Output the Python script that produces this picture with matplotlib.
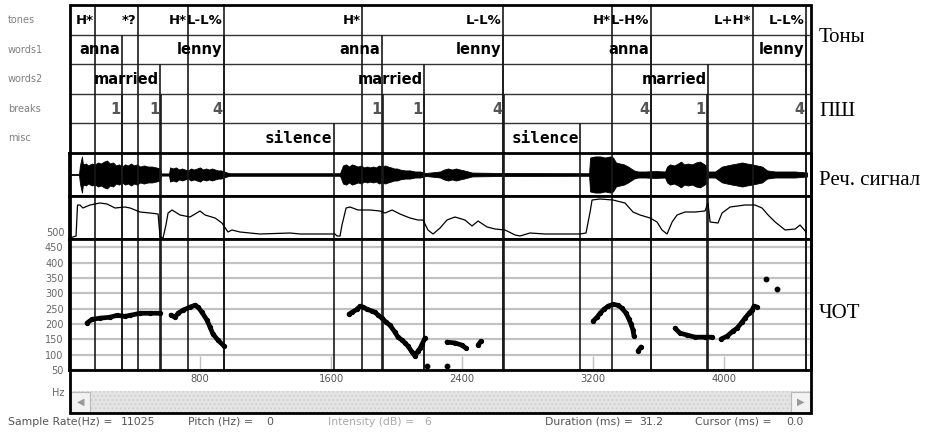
import numpy as np
import matplotlib.pyplot as plt
from matplotlib import transforms
from matplotlib.patches import Rectangle

nan = np.nan

# --- annotation tiers: label text and time (ms) of the label mark ---
tones_lab = ["H*", "*?", "H*", "L-L%", "H*", "L-L%", "H*", "L-H%", "L+H*", "L-L%"]
tones_t = [159, 421, 727, 947, 1789, 2650, 3316, 3554, 4177, 4501]
words1_lab = ["anna", "lenny", "anna", "lenny", "anna", "lenny"]
words1_t = [324, 947, 1911, 2650, 3554, 4501]
words2_lab = ["married", "married", "married"]
words2_t = [556, 2168, 3902]
breaks_lab = ["1", "1", "4", "1", "1", "4", "4", "1", "4"]
breaks_t = [324, 562, 947, 1917, 2168, 2656, 3554, 3896, 4501]
misc_lab = ["silence", "silence"]
misc_t = [1618, 3121]
tier_names = ["tones", "words1", "words2", "breaks", "misc"]

# --- speech waveform envelope (% of full scale) ---
wave_t = [0, 61, 67, 79,
          85, 104, 116, 140, 159, 177, 195, 214, 232, 250, 269, 287, 305, 324,
          342, 360, 379, 397, 415, 434, 458, 482, 507, 531, 556,
          562, 611,
          617, 635, 653, 672, 690, 708, 727, 745, 763, 782, 800, 818, 837, 855,
          873, 892, 910, 928, 947, 965,
          983, 1655,
          1673, 1692, 1710, 1728, 1747, 1765, 1783, 1802, 1820, 1838, 1857, 1875,
          1893, 1911, 1930, 1948, 1966, 1985, 2003, 2021, 2052, 2082, 2113, 2144, 2168,
          2180,
          2266, 2290, 2315, 2339, 2363, 2388, 2412, 2437, 2461,
          2632,
          3176, 3182, 3212, 3243, 3273, 3304, 3322, 3340, 3365, 3389, 3414, 3432, 3450, 3475,
          3518, 3579, 3640,
          3652, 3670, 3695, 3719, 3737, 3756, 3780, 3805, 3829, 3853, 3872, 3890, 3902,
          3945, 3988, 4018, 4049, 4079, 4110, 4140, 4171, 4202, 4232, 4263, 4312,
          4373, 4434, 4507]
wave_amp = [2, 2, 42, 84,
            47, 51, 42, 51, 47, 56, 51, 60, 65, 51, 56, 42, 47, 37,
            47, 42, 51, 42, 47, 37, 42, 37, 37, 33, 28,
            5, 5,
            33, 28, 33, 23, 28, 23, 19, 28, 23, 28, 33, 23, 28, 23,
            28, 23, 19, 19, 14, 9,
            6, 6,
            42, 47, 37, 47, 42, 37, 42, 33, 37, 33, 37, 33,
            42, 37, 42, 37, 33, 28, 28, 23, 19, 19, 14, 14, 9,
            7,
            14, 23, 28, 23, 28, 23, 19, 14, 9,
            7,
            6, 79, 84, 84, 79, 84, 79, 56, 51, 47, 37, 28, 19, 14,
            14, 16, 14,
            37, 47, 42, 51, 60, 47, 51, 47, 56, 60, 51, 42, 14,
            14, 37, 42, 47, 51, 56, 51, 47, 42, 37, 19, 14,
            14, 14, 9]

# --- intensity contour ---
inten_t = [6, 43, 52, 67, 85, 128, 189, 232, 281, 342, 373, 434, 495, 544, 556,
           574, 592, 605, 629, 678, 739, 800, 831, 892, 934, 971, 995, 1044, 1166,
           1350, 1411, 1624, 1637, 1655, 1667, 1692, 1716, 1765, 1838, 1899, 1930,
           1973, 2021, 2082, 2131, 2162, 2192, 2223, 2266, 2308, 2357, 2418, 2461,
           2498, 2553, 2602, 2663, 2724, 2754, 2815, 2907, 2999, 3121, 3157, 3182,
           3194, 3243, 3322, 3395, 3444, 3487, 3548, 3591, 3621, 3652, 3683, 3713,
           3762, 3823, 3884, 3902, 3915, 3963, 3988, 4037, 4128, 4189, 4232, 4269,
           4312, 4373, 4434, 4464, 4501]
inten_db = [1, 3, 34, 34, 31, 34, 36, 35, 31, 32, 31, 27, 26, 25, 2,
            1, 14, 26, 29, 24, 22, 28, 24, 21, 16, 7, 9, 7, 5,
            6, 5, 5, 3, 3, 14, 31, 32, 29, 29, 28, 26,
            29, 25, 21, 19, 19, 9, 5, 11, 19, 22, 19, 13,
            18, 12, 10, 9, 4, 3, 6, 5, 5, 5, 6, 27,
            39, 40, 39, 36, 27, 24, 21, 17, 9, 5, 17, 24,
            27, 27, 28, 36, 17, 16, 26, 32, 34, 34, 31, 24,
            17, 9, 10, 14, 7]

# --- F0 contour (Hz), NaN separates voiced stretches ---
pitch_t = [110, 140, 189, 250, 293, 342, 373, 434, 495, 556, nan,
           623, 647, 666, 696, 739, 769, 788, 812, 843, 861, 879, 910, 947, nan,
           1710, 1728, 1759, 1777, 1795, 1820, 1850, 1869, 1887, 1911, 1936, 1960,
           1991, 2009, 2034, 2052, 2070, 2095, 2113, 2131, 2144, 2156, 2174, nan,
           2308, 2357, 2400, 2424, nan, 2498, 2516, nan,
           3200, 3225, 3243, 3267, 3292, 3322, 3353, 3377, 3402, 3420, 3432, 3444,
           3450, nan, 3475, 3493, nan,
           3701, 3731, 3774, 3823, 3884, 3927, nan,
           3982, 4018, 4055, 4079, 4110, 4128, 4153, 4171, 4183, 4202]
pitch_hz = [203, 215, 219, 222, 228, 225, 228, 235, 235, 235, nan,
            229, 222, 235, 245, 255, 261, 255, 238, 212, 190, 167, 147, 128, nan,
            232, 238, 248, 258, 255, 248, 242, 238, 229, 219, 206, 196,
            173, 157, 147, 138, 128, 108, 95, 112, 121, 134, 154, nan,
            141, 138, 131, 121, nan, 131, 144, nan,
            209, 222, 235, 248, 258, 264, 261, 251, 235, 215, 200, 180,
            160, nan, 112, 125, nan,
            186, 170, 164, 157, 157, 157, nan,
            151, 160, 177, 186, 206, 219, 235, 245, 258, 255]
dot_t = [2186, 2308, 4257, 4324]
dot_hz = [63, 63, 345, 313]

time_ticks = [800, 1600, 2400, 3200, 4000]
hz_ticks = [50, 100, 150, 200, 250, 300, 350, 400, 450]

W, H = 927, 432
T_END = 4531
fig = plt.figure(figsize=(W / 100, H / 100), dpi=100)


def box(x0, y0, x1, y1):
    return fig.add_axes([x0 / W, 1 - y1 / H, (x1 - x0) / W, (y1 - y0) / H])


LINE = "#1a1a1a"
tiers = [(tones_lab, tones_t, "black"), (words1_lab, words1_t, "black"),
         (words2_lab, words2_t, "black"), (breaks_lab, breaks_t, "#555555"),
         (misc_lab, misc_t, "black")]
all_t = [t for _, ts, _ in tiers for t in ts]

# tiers
ax_t = box(69, 5, 811, 153)
ax_t.set_xlim(0, T_END)
ax_t.set_ylim(5, 0)
ax_t.axis("off")
for k in range(1, 5):
    ax_t.axhline(k, color="#333333", lw=1)
ax_t.axhline(0, color="#333333", lw=1.5)
shift = transforms.offset_copy(ax_t.transData, fig=fig, x=-1.5, y=0, units="dots")
for k, (labs, ts, col) in enumerate(tiers):
    ax_t.vlines(ts, k, 5, color=LINE, lw=1.2)
    mono = tier_names[k] == "misc"
    size = 11.5 if mono else (9.5 if k == 0 else 10.5)
    for lab, t in zip(labs, ts):
        ax_t.text(t, k + 0.52, lab, transform=shift, ha="right", va="center",
                  family="DejaVu Sans Mono" if mono else "DejaVu Sans",
                  fontweight="bold", fontsize=size, color=col)
for k, name in enumerate(tier_names):
    fig.text(8 / W, 1 - (20 + k * 29.6) / H, name, fontsize=7, color="#808080",
             va="center", ha="left")

# waveform
ax_w = box(69, 153, 811, 196)
ax_w.set_xlim(0, T_END)
ax_w.set_ylim(-100, 100)
amp = np.array(wave_amp)
ax_w.fill_between(wave_t, -amp, amp, color="black", lw=0.6, edgecolor="black")

# intensity
ax_i = box(69, 196, 811, 239)
ax_i.set_xlim(0, T_END)
ax_i.set_ylim(0, 43)
ax_i.plot(inten_t, inten_db, color="black", lw=0.9)

# pitch
ax_p = box(69, 239, 811, 370)
ax_p.set_xlim(0, T_END)
ax_p.set_ylim(50, 477)
ax_p.set_axisbelow(True)
ax_p.set_yticks(hz_ticks)
ax_p.grid(axis="y", color="#c2c2c2", lw=1.6)
ax_p.set_xticks(time_ticks)
ax_p.tick_params(axis="x", direction="in", length=10, width=1, color="#c0c0c0",
                 labelsize=7.2, labelcolor="#555555", pad=3)
ax_p.tick_params(axis="y", length=0, pad=4, labelsize=7, labelcolor="#666666")
ax_p.plot(pitch_t, pitch_hz, color="black", lw=3.4, marker="o", ms=2.8,
          solid_capstyle="round")
ax_p.plot(dot_t, dot_hz, "o", color="black", ms=3.2)
fig.text(65 / W, 1 - 233 / H, "500", fontsize=7, color="#666666", ha="right", va="center")
fig.text(64 / W, 1 - 393 / H, "Hz", fontsize=7, color="#666666", ha="right", va="center")

for ax in (ax_w, ax_i, ax_p):
    for t in all_t:
        ax.axvline(t, color=LINE, lw=1.2, zorder=1)
    if ax is not ax_p:
        ax.set_xticks([])
        ax.set_yticks([])
    for s in ax.spines.values():
        s.set_linewidth(2)
        s.set_color("black")

# scroll bar
ax_s = box(70, 391, 811, 413)
ax_s.set_xlim(0, 741)
ax_s.set_ylim(0, 22)
ax_s.set_xticks([])
ax_s.set_yticks([])
ax_s.add_patch(Rectangle((0, 0), 741, 22, facecolor="#e4e4e4", hatch="....",
                         edgecolor="#d2d2d2", lw=0))
for x0, arrow in ((1, "\u25c0"), (721, "\u25b6")):
    ax_s.add_patch(Rectangle((x0, 1), 19, 20, facecolor="#f2f2f2", edgecolor="#b8b8b8", lw=0.8))
    ax_s.text(x0 + 9.5, 11, arrow, ha="center", va="center", fontsize=7, color="#999999")
for s in ax_s.spines.values():
    s.set_visible(False)

# outer frame
fig.patches.append(Rectangle((70 / W, 1 - 413 / H), 741 / W, 408 / H, transform=fig.transFigure,
                             fill=False, edgecolor="black", lw=2))

# status line
status = [(8, "Sample Rate(Hz) =", 155, "11025", "#555555"),
          (188, "Pitch (Hz) =", 273, "0", "#555555"),
          (328, "Intensity (dB) =", 431, "6", "#aaaaaa"),
          (545, "Duration (ms) =", 663, "31.2", "#555555"),
          (695, "Cursor (ms) =", 804, "0.0", "#555555")]
for x0, lab, x1, val, col in status:
    fig.text(x0 / W, 1 - 422 / H, lab, fontsize=7.8, color=col, ha="left", va="center")
    fig.text(x1 / W, 1 - 422 / H, val, fontsize=7.8, color=col, ha="right", va="center")

# right-hand captions
for y, lab in ((37, "Тоны"), (111, "ПШ"), (181, "Реч. сигнал"), (313, "ЧОТ")):
    fig.text(819 / W, 1 - y / H, lab, family="Liberation Serif", fontsize=15,
             ha="left", va="center")

fig.savefig("out.png", dpi=100)
